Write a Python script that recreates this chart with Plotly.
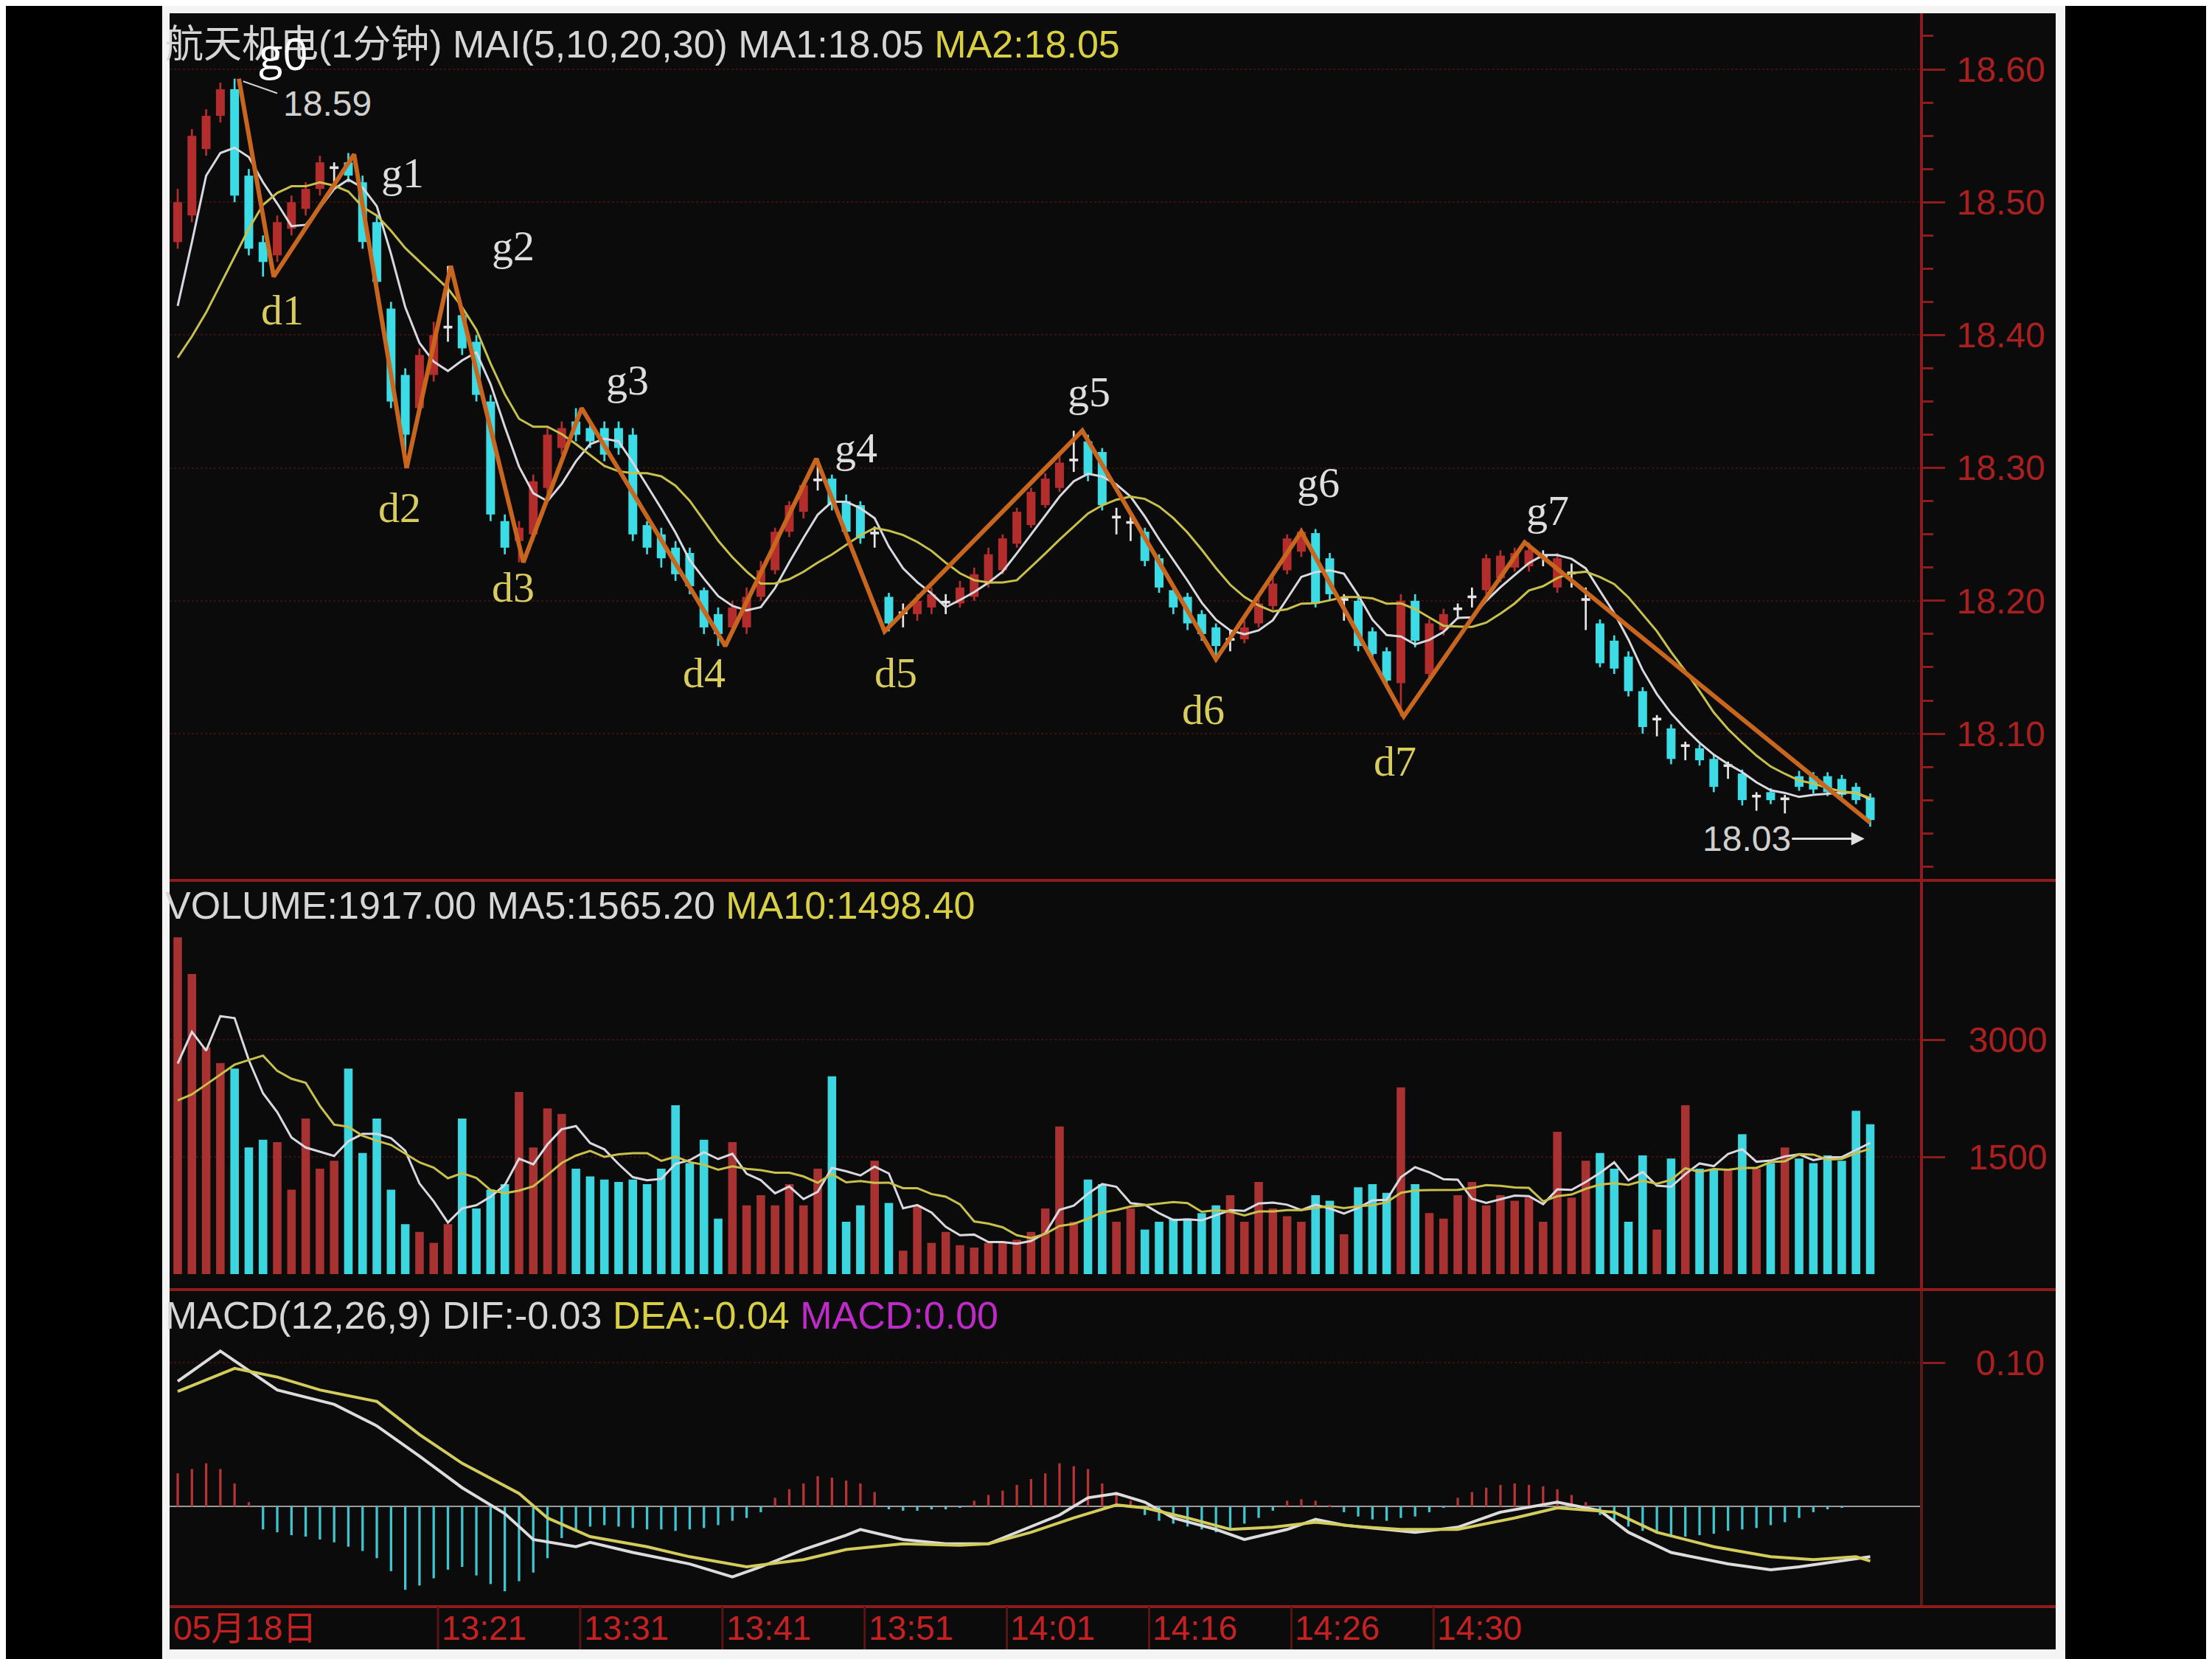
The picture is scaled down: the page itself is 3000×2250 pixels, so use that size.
import plotly.graph_objects as go
import pandas as pd

# ---------------- data ----------------
idx = list(range(120))

opens = [18.47, 18.49, 18.54, 18.565, 18.585, 18.52, 18.47, 18.46, 18.48, 18.495,
         18.51, 18.525, 18.53, 18.515, 18.485, 18.42, 18.37, 18.345, 18.37, 18.405,
         18.415, 18.395, 18.35, 18.26, 18.245, 18.25, 18.285, 18.315, 18.335, 18.33,
         18.33, 18.33, 18.325, 18.257, 18.25, 18.24, 18.236, 18.208, 18.19, 18.18,
         18.18, 18.203, 18.223, 18.252, 18.267, 18.29, 18.292, 18.275, 18.272, 18.25,
         18.203, 18.19, 18.19, 18.195, 18.198, 18.198, 18.203, 18.213, 18.223, 18.243,
         18.257, 18.272, 18.285, 18.305, 18.32, 18.312, 18.262, 18.258, 18.252, 18.232,
         18.208, 18.203, 18.19, 18.18, 18.17, 18.171, 18.183, 18.196, 18.223, 18.237,
         18.251, 18.232, 18.2, 18.2, 18.177, 18.162, 18.138, 18.2, 18.145, 18.178,
         18.193, 18.202, 18.208, 18.217, 18.225, 18.226, 18.232, 18.21, 18.22, 18.2,
         18.183, 18.17, 18.158, 18.132, 18.11, 18.104, 18.09, 18.089, 18.081, 18.075,
         18.07, 18.052, 18.056, 18.05, 18.068, 18.068, 18.068, 18.066, 18.06, 18.052]

closes = [18.50, 18.55, 18.565, 18.585, 18.505, 18.465, 18.455, 18.485, 18.50, 18.51,
          18.53, 18.525, 18.52, 18.47, 18.44, 18.35, 18.325, 18.385, 18.40, 18.405,
          18.39, 18.355, 18.265, 18.24, 18.255, 18.29, 18.325, 18.33, 18.325, 18.32,
          18.31, 18.315, 18.25, 18.24, 18.232, 18.22, 18.211, 18.18, 18.175, 18.195,
          18.203, 18.223, 18.252, 18.272, 18.287, 18.29, 18.272, 18.252, 18.247, 18.25,
          18.183, 18.19, 18.2, 18.205, 18.198, 18.21, 18.22, 18.235, 18.247, 18.267,
          18.282, 18.292, 18.304, 18.305, 18.295, 18.272, 18.262, 18.258, 18.23, 18.21,
          18.195, 18.183, 18.175, 18.166, 18.17, 18.18, 18.198, 18.213, 18.247, 18.252,
          18.198, 18.205, 18.2, 18.166, 18.16, 18.14, 18.2, 18.17, 18.183, 18.19,
          18.193, 18.202, 18.232, 18.234, 18.236, 18.238, 18.232, 18.232, 18.22, 18.2,
          18.153, 18.149, 18.132, 18.105, 18.11, 18.081, 18.09, 18.08, 18.06, 18.075,
          18.05, 18.052, 18.05, 18.05, 18.06, 18.058, 18.056, 18.054, 18.05, 18.035]

highs = [18.51, 18.555, 18.57, 18.59, 18.593, 18.525, 18.475, 18.49, 18.505, 18.515,
         18.535, 18.53, 18.537, 18.52, 18.49, 18.425, 18.375, 18.39, 18.41, 18.452,
         18.42, 18.40, 18.355, 18.265, 18.26, 18.295, 18.33, 18.335, 18.345, 18.335,
         18.335, 18.335, 18.33, 18.26, 18.255, 18.245, 18.24, 18.21, 18.195, 18.2,
         18.21, 18.23, 18.255, 18.275, 18.29, 18.307, 18.295, 18.28, 18.275, 18.256,
         18.206, 18.198, 18.205, 18.21, 18.205, 18.215, 18.225, 18.24, 18.25, 18.27,
         18.285, 18.296, 18.31, 18.328, 18.325, 18.315, 18.27, 18.265, 18.255, 18.235,
         18.212, 18.206, 18.193, 18.183, 18.178, 18.185, 18.202, 18.218, 18.25, 18.255,
         18.254, 18.236, 18.205, 18.204, 18.18, 18.165, 18.205, 18.205, 18.186, 18.194,
         18.198, 18.21, 18.235, 18.238, 18.24, 18.244, 18.238, 18.236, 18.228, 18.21,
         18.186, 18.174, 18.162, 18.135, 18.114, 18.107, 18.094, 18.092, 18.084, 18.079,
         18.073, 18.056, 18.059, 18.054, 18.072, 18.071, 18.071, 18.069, 18.063, 18.055]

lows = [18.465, 18.485, 18.535, 18.56, 18.50, 18.46, 18.444, 18.455, 18.475, 18.49,
        18.505, 18.515, 18.515, 18.465, 18.435, 18.345, 18.30, 18.34, 18.365, 18.395,
        18.385, 18.35, 18.26, 18.235, 18.229, 18.245, 18.28, 18.31, 18.32, 18.315,
        18.305, 18.31, 18.245, 18.235, 18.225, 18.215, 18.205, 18.175, 18.166, 18.175,
        18.175, 18.2, 18.22, 18.248, 18.262, 18.283, 18.268, 18.248, 18.243, 18.24,
        18.177, 18.18, 18.185, 18.19, 18.19, 18.195, 18.2, 18.21, 18.22, 18.24,
        18.255, 18.27, 18.282, 18.297, 18.29, 18.268, 18.25, 18.245, 18.226, 18.206,
        18.19, 18.178, 18.17, 18.156, 18.162, 18.168, 18.18, 18.193, 18.22, 18.233,
        18.195, 18.2, 18.185, 18.162, 18.156, 18.136, 18.113, 18.165, 18.14, 18.174,
        18.186, 18.195, 18.205, 18.214, 18.222, 18.222, 18.226, 18.206, 18.21, 18.178,
        18.15, 18.145, 18.128, 18.10, 18.098, 18.077, 18.08, 18.076, 18.056, 18.066,
        18.046, 18.042, 18.047, 18.04, 18.057, 18.055, 18.053, 18.051, 18.047, 18.03]

volumes = [4310, 3840, 2900, 2700, 2630, 1620, 1720, 1690, 1080, 1990,
           1350, 1450, 2630, 1550, 1990, 1080, 640, 540, 400, 640,
           1990, 840, 1080, 1150, 2330, 1620, 2120, 2050, 1350, 1250,
           1210, 1180, 1210, 1150, 1350, 2160, 1420, 1720, 710, 1690,
           880, 1010, 880, 1150, 880, 1350, 2530, 670, 880, 1450,
           910, 300, 880, 400, 540, 370, 340, 400, 400, 440,
           540, 840, 1890, 670, 1210, 1150, 670, 840, 570, 670,
           710, 710, 780, 880, 1010, 670, 1180, 840, 740, 670,
           1010, 940, 510, 1110, 1150, 1040, 2390, 1150, 780, 710,
           1010, 1180, 880, 1010, 940, 980, 670, 1820, 980, 1450,
           1550, 1350, 670, 1520, 570, 1480, 2160, 1350, 1350, 1350,
           1790, 1350, 1420, 1620, 1480, 1420, 1520, 1450, 2090, 1917]

# moving-average values at the left edge (they include minutes before the window)
price_ma5_start = [18.422, 18.470, 18.520, 18.537]
price_ma10_start = [18.383, 18.399, 18.417, 18.438, 18.459, 18.480, 18.498, 18.507, 18.512]
vol_ma5_start = [2695, 3100, 2860, 3300]
vol_ma10_start = [2224, 2300, 2426, 2550, 2680, 2740, 2796, 2600, 2500]

macd_hist = [0.023, 0.026, 0.030, 0.026, 0.016, 0.003, -0.016, -0.018, -0.020, -0.021,
             -0.023, -0.025, -0.028, -0.031, -0.036, -0.045, -0.058, -0.055, -0.050, -0.044,
             -0.042, -0.048, -0.054, -0.059, -0.052, -0.046, -0.036, -0.022, -0.016, -0.014,
             -0.013, -0.014, -0.015, -0.016, -0.016, -0.017, -0.016, -0.015, -0.013, -0.010,
             -0.008, -0.004, 0.006, 0.012, 0.016, 0.021, 0.020, 0.018, 0.016, 0.010,
             -0.002, -0.003, -0.003, -0.002, -0.002, -0.001, 0.004, 0.008, 0.011, 0.015,
             0.019, 0.023, 0.030, 0.028, 0.026, 0.016, 0.010, 0.004, -0.006, -0.010,
             -0.012, -0.014, -0.016, -0.018, -0.016, -0.012, -0.008, -0.003, 0.004, 0.005,
             0.004, 0.001, -0.004, -0.007, -0.009, -0.010, -0.008, -0.007, -0.004, -0.001,
             0.006, 0.010, 0.013, 0.015, 0.016, 0.015, 0.014, 0.012, 0.008, 0.003,
             -0.006, -0.010, -0.014, -0.017, -0.019, -0.021, -0.021, -0.020, -0.019, -0.017,
             -0.016, -0.015, -0.013, -0.011, -0.008, -0.004, -0.002, -0.001, 0.000, 0.000]

dif_idx = [0, 3, 7, 11, 14, 17, 20, 23, 25, 28, 29, 32, 36, 39, 41, 44, 47, 48, 51, 54,
           57, 59, 62, 64, 66, 68, 70, 73, 75, 78, 80, 82, 85, 87, 90, 93, 97, 100, 102,
           105, 109, 112, 114, 117, 119]
dif_vals = [0.087, 0.108, 0.081, 0.071, 0.056, 0.035, 0.013, -0.005, -0.023, -0.028,
            -0.025, -0.032, -0.040, -0.049, -0.042, -0.030, -0.020, -0.016, -0.023, -0.026,
            -0.026, -0.018, -0.006, 0.006, 0.009, 0.003, -0.008, -0.016, -0.023, -0.016,
            -0.009, -0.013, -0.016, -0.018, -0.0145, -0.004, 0.003, -0.003, -0.018,
            -0.032, -0.040, -0.044, -0.042, -0.038, -0.035]

dea_idx = [0, 4, 7, 10, 14, 17, 20, 24, 26, 29, 33, 36, 40, 44, 47, 51, 55, 57, 60, 63,
           66, 68, 71, 74, 77, 80, 83, 86, 90, 94, 97, 101, 104, 108, 112, 115, 118, 119]
dea_vals = [0.080, 0.096, 0.090, 0.081, 0.073, 0.050, 0.030, 0.009, -0.008, -0.021,
            -0.028, -0.035, -0.042, -0.037, -0.030, -0.026, -0.027, -0.026, -0.018, -0.008,
            0.001, -0.001, -0.008, -0.016, -0.0145, -0.011, -0.014, -0.016, -0.016, -0.008,
            -0.001, -0.004, -0.018, -0.028, -0.035, -0.037, -0.035, -0.038]

zigzag_idx = [4.3, 6.75, 12.4, 16.1, 19.2, 24.3, 28.4, 38.5, 44.9, 49.7, 63.6, 73.0,
              79.0, 86.2, 94.7, 119.0]
zigzag_price = [18.593, 18.444, 18.536, 18.300, 18.452, 18.229, 18.345, 18.166, 18.307,
                18.177, 18.328, 18.156, 18.252, 18.113, 18.244, 18.033]

peak_labels = ["g1", "g2", "g3", "g4", "g5", "g6", "g7"]
peak_label_idx = [15.8, 23.6, 31.6, 47.7, 64.1, 80.2, 96.3]
peak_label_price = [18.522, 18.467, 18.366, 18.315, 18.357, 18.289, 18.268]
trough_labels = ["d1", "d2", "d3", "d4", "d5", "d6", "d7"]
trough_label_idx = [7.34, 15.6, 23.6, 37.0, 50.5, 72.1, 85.6]
trough_label_price = [18.419, 18.270, 18.210, 18.146, 18.146, 18.118, 18.079]

time_labels = ["05月18日", "13:21", "13:31", "13:41", "13:51", "14:01", "14:16", "14:26", "14:30"]
time_idx = [0, 18, 28, 38, 48, 58, 68, 78, 88]

price_ticks = [18.10, 18.20, 18.30, 18.40, 18.50, 18.60]
volume_ticks = [1500, 3000]
macd_ticks = [0.10]

# ---------------- derived ----------------
def moving_average(values, n, start):
    ma = pd.Series(values).rolling(n, min_periods=1).mean().tolist()
    return list(start) + ma[len(start):]

ma5 = moving_average(closes, 5, price_ma5_start)
ma10 = moving_average(closes, 10, price_ma10_start)
vma5 = moving_average(volumes, 5, vol_ma5_start)
vma10 = moving_average(volumes, 10, vol_ma10_start)

RED = "#b42d2d"
CYAN = "#3cdce6"
DOJI = "#e6e6e6"
candle_cols = [RED if c > o else (CYAN if c < o else DOJI) for o, c in zip(opens, closes)]
vol_cols = ["#a83232" if c >= o else "#3cd6e0" for o, c in zip(opens, closes)]
hist_cols = ["#b83434" if v >= 0 else "#3cc6d0" for v in macd_hist]

W, H = 3000, 2250
def px_y(y):
    return 1 - y / H

XD = [222 / W, 2596 / W]
PRICE_DOM = [px_y(1186), px_y(10)]
VOL_DOM = [px_y(1741), px_y(1186)]
MACD_DOM = [px_y(2171), px_y(1741)]

fig = go.Figure()

# candles: wicks then bodies
fig.add_trace(go.Bar(x=idx, y=[h - l for h, l in zip(highs, lows)], base=lows, width=0.14,
                     marker=dict(color=candle_cols, line=dict(width=0)), xaxis="x", yaxis="y",
                     hoverinfo="skip"))
fig.add_trace(go.Bar(x=idx, y=[max(abs(c - o), 0.002) for o, c in zip(opens, closes)],
                     base=[min(o, c) for o, c in zip(opens, closes)], width=0.62,
                     marker=dict(color=candle_cols, line=dict(width=0)), xaxis="x", yaxis="y"))
fig.add_trace(go.Scatter(x=idx, y=ma5, mode="lines", line=dict(color="#d8d8e0", width=3),
                         xaxis="x", yaxis="y"))
fig.add_trace(go.Scatter(x=idx, y=ma10, mode="lines", line=dict(color="#c8c04a", width=3),
                         xaxis="x", yaxis="y"))
fig.add_trace(go.Scatter(x=zigzag_idx, y=zigzag_price, mode="lines",
                         line=dict(color="#c8661e", width=6), xaxis="x", yaxis="y"))

# volume
fig.add_trace(go.Bar(x=idx, y=volumes, width=0.6, marker=dict(color=vol_cols, line=dict(width=0)),
                     xaxis="x2", yaxis="y2"))
fig.add_trace(go.Scatter(x=idx, y=vma5, mode="lines", line=dict(color="#d8d8e0", width=3),
                         xaxis="x2", yaxis="y2"))
fig.add_trace(go.Scatter(x=idx, y=vma10, mode="lines", line=dict(color="#c8c04a", width=3),
                         xaxis="x2", yaxis="y2"))

# MACD
fig.add_trace(go.Bar(x=idx, y=macd_hist, width=0.17, marker=dict(color=hist_cols, line=dict(width=0)),
                     xaxis="x3", yaxis="y3"))
fig.add_trace(go.Scatter(x=dif_idx, y=dif_vals, mode="lines", line=dict(color="#dcdcdc", width=4),
                         xaxis="x3", yaxis="y3"))
fig.add_trace(go.Scatter(x=dea_idx, y=dea_vals, mode="lines", line=dict(color="#d4cc5a", width=4),
                         xaxis="x3", yaxis="y3"))

AXRED = "#8e1c1c"
TICKRED = "#a82020"
FONT = "Liberation Sans"
GRID = "#3a1010"

xcommon = dict(domain=XD, range=[-0.57, 122.5], visible=False, showgrid=False, zeroline=False)
ycommon = dict(side="right", showline=True, linecolor=AXRED, linewidth=4, ticks="outside",
               ticklen=30, tickwidth=3, tickcolor=AXRED, zeroline=False,
               tickfont=dict(family=FONT, size=48, color=TICKRED), showgrid=True,
               gridcolor=GRID, gridwidth=2, griddash="dot")

fig.update_layout(
    width=W, height=H, margin=dict(l=0, r=0, t=0, b=0),
    paper_bgcolor="#000000", plot_bgcolor="rgba(0,0,0,0)",
    showlegend=False, barmode="overlay",
    xaxis=dict(anchor="y", **xcommon),
    xaxis2=dict(anchor="y2", matches="x", **xcommon),
    xaxis3=dict(anchor="y3", matches="x", **xcommon),
    yaxis=dict(domain=PRICE_DOM, range=[17.9896, 18.6422], anchor="x", tickvals=price_ticks,
               tickformat=".2f", ticklabelstandoff=6,
               minor=dict(ticks="outside", ticklen=14, tickcolor=AXRED, tickmode="linear",
                          tick0=18.0, dtick=0.025, showgrid=False), **ycommon),
    yaxis2=dict(domain=VOL_DOM, range=[-198, 5038], anchor="x2", tickvals=volume_ticks,
                ticklabelstandoff=22, **ycommon),
    yaxis3=dict(domain=MACD_DOM, range=[-0.0697, 0.1508], anchor="x3", tickvals=macd_ticks,
                tickformat=".2f", ticklabelstandoff=32, **ycommon),
)
fig.update_yaxes(selector=dict(anchor="x3"), zeroline=True, zerolinecolor="#9a9a9a",
                 zerolinewidth=2, linecolor="#5a1a1a")

shapes = [
    dict(type="rect", xref="paper", yref="paper", x0=212 / W, x1=2793 / W, y0=px_y(2242), y1=1,
         fillcolor="#f4f4f4", line=dict(width=0), layer="below"),
    dict(type="rect", xref="paper", yref="paper", x0=222 / W, x1=2780 / W, y0=px_y(2229),
         y1=px_y(10), fillcolor="#0b0b0b", line=dict(width=0), layer="below"),
]
for yy in (1186, 1741, 2171):
    shapes.append(dict(type="line", xref="paper", yref="paper", x0=222 / W, x1=2780 / W,
                       y0=px_y(yy), y1=px_y(yy), line=dict(color=AXRED, width=4)))
for t in time_idx[1:]:
    shapes.append(dict(type="line", xref="x3", yref="paper", x0=t + 0.3, x1=t + 0.3,
                       y0=px_y(2229), y1=px_y(2171), line=dict(color="#5a1414", width=3)))
# leader line of the 18.59 mark
shapes.append(dict(type="line", xref="x", yref="y", x0=4.6, x1=7.0, y0=18.591, y1=18.582,
                   line=dict(color="#d0d0d0", width=2)))

WHITE = "#d6d6d6"
YEL = "#d8d040"
ann = [
    dict(xref="paper", yref="paper", x=214 / W, y=px_y(52), xanchor="left", yanchor="middle",
         showarrow=False, font=dict(family=FONT + ", Noto Sans CJK SC", size=52, color=WHITE),
         text="航天机电(1分钟) MAI(5,10,20,30) MA1:18.05 "
              "<span style='color:%s'>MA2:18.05</span>" % YEL),
    dict(xref="paper", yref="paper", x=214 / W, y=px_y(1220), xanchor="left", yanchor="middle",
         showarrow=False, font=dict(family=FONT, size=52, color=WHITE),
         text="VOLUME:1917.00 MA5:1565.20 <span style='color:%s'>MA10:1498.40</span>" % YEL),
    dict(xref="paper", yref="paper", x=214 / W, y=px_y(1776), xanchor="left", yanchor="middle",
         showarrow=False, font=dict(family=FONT, size=52, color=WHITE),
         text="MACD(12,26,9) DIF:-0.03 <span style='color:%s'>DEA:-0.04</span> "
              "<span style='color:#c02ac8'>MACD:0.00</span>" % YEL),
    dict(xref="x", yref="y", x=7.44, y=18.612, showarrow=False, text="g0",
         font=dict(family="Open Sans", size=60, color="#ffffff")),
    dict(xref="x", yref="y", x=7.3, y=18.574, xanchor="left", showarrow=False, text="18.59",
         font=dict(family=FONT, size=48, color="#d0d0d0")),
    dict(xref="x", yref="y", x=118.6, y=18.021, ax=-160, ay=0, showarrow=True, text="18.03",
         arrowhead=2, arrowsize=1.2, arrowwidth=3, arrowcolor="#e0e0e0",
         font=dict(family=FONT, size=48, color="#d0d0d0")),
]
for t, xi, yv in zip(peak_labels, peak_label_idx, peak_label_price):
    ann.append(dict(xref="x", yref="y", x=xi, y=yv, showarrow=False, text=t,
                    font=dict(family="Liberation Serif", size=58, color="#dedede")))
for t, xi, yv in zip(trough_labels, trough_label_idx, trough_label_price):
    ann.append(dict(xref="x", yref="y", x=xi, y=yv, showarrow=False, text=t,
                    font=dict(family="Liberation Serif", size=58, color="#d8cc5c")))
for t, xi in zip(time_labels, time_idx):
    ann.append(dict(xref="x3", yref="paper", x=xi + 0.45 if xi else -0.4, y=px_y(2200),
                    xanchor="left", yanchor="middle", showarrow=False, text=t,
                    font=dict(family=FONT + ", Noto Sans CJK SC", size=46, color="#c42222")))

fig.update_layout(shapes=shapes, annotations=ann)
fig.write_html("out.html")
